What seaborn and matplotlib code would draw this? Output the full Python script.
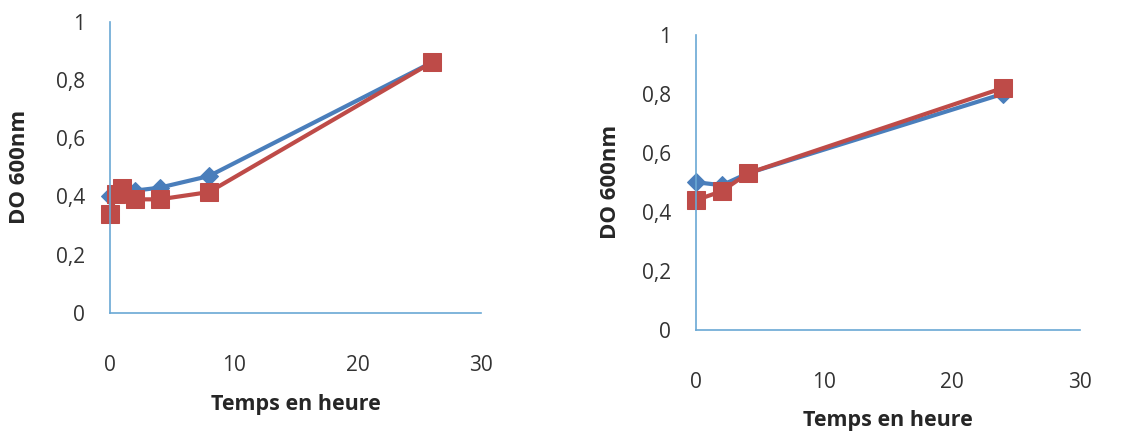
import matplotlib
matplotlib.use("Agg")
import matplotlib.pyplot as plt
import seaborn as sns

# Left panel: OD600 over time (hours)
t_left = [0, 0.5, 1, 2, 4, 8, 26]
blue_left = [0.40, 0.41, 0.43, 0.42, 0.43, 0.47, 0.86]
red_left = [0.34, 0.41, 0.43, 0.39, 0.39, 0.415, 0.86]

# Right panel
t_right = [0, 2, 4, 24]
blue_right = [0.50, 0.49, 0.53, 0.80]
red_right = [0.44, 0.47, 0.53, 0.82]

y_ticks = [0, 0.2, 0.4, 0.6, 0.8, 1]
y_ticklabels = ["0", "0,2", "0,4", "0,6", "0,8", "1"]
x_ticks = [0, 10, 20, 30]

BLUE = "#4A7EBB"
RED = "#BE4B48"
AXIS = "#6AA8D4"

sns.set_theme(style="white")
plt.rcParams["font.family"] = ["Open Sans", "DejaVu Sans"]

fig = plt.figure(figsize=(11.25, 4.34), dpi=100)
ax1 = fig.add_axes([0.0978, 0.279, 0.330, 0.671])
ax2 = fig.add_axes([0.619, 0.240, 0.341, 0.680])

# axes, data, label positions (axes coords)
panels = [
    (ax1, t_left, blue_left, red_left, (-0.245, 0.5), (0.5, -0.316)),
    (ax2, t_right, blue_right, red_right, (-0.224, 0.5), (0.5, -0.308)),
]

for ax, t, blue, red, ylab_pos, xlab_pos in panels:
    sns.lineplot(x=t, y=blue, ax=ax, color=BLUE, linewidth=3, marker="D",
                 markersize=9, markeredgecolor=BLUE, sort=False, clip_on=False)
    sns.lineplot(x=t, y=red, ax=ax, color=RED, linewidth=3, marker="s",
                 markersize=13, markeredgecolor=RED, sort=False, clip_on=False)
    ax.set_xlim(0, 30)
    ax.set_ylim(0, 1)
    ax.set_xticks(x_ticks)
    ax.set_yticks(y_ticks)
    ax.set_yticklabels(y_ticklabels)
    ax.tick_params(axis="both", length=0, labelsize=15, colors="#333333")
    ax.tick_params(axis="x", pad=30)
    ax.tick_params(axis="y", pad=18)
    for side in ["top", "right"]:
        ax.spines[side].set_visible(False)
    for side in ["left", "bottom"]:
        ax.spines[side].set_color(AXIS)
        ax.spines[side].set_linewidth(1.2)
    ax.set_xlabel("Temps en heure", fontsize=15.5, fontweight="bold", va="center")
    ax.set_ylabel("DO 600nm", fontsize=16, fontweight="bold", va="center")
    ax.yaxis.set_label_coords(*ylab_pos)
    ax.xaxis.set_label_coords(*xlab_pos)

fig.savefig("out.png", dpi=100)
plt.close(fig)
